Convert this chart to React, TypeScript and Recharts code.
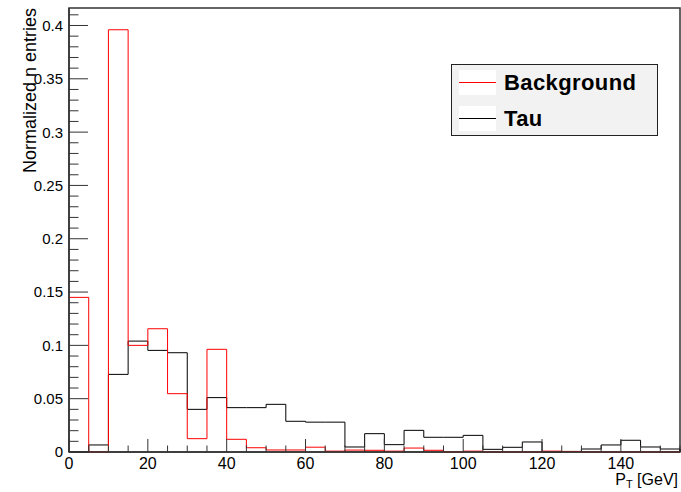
import { LineChart, Line, XAxis, YAxis, Legend, ReferenceArea, Label } from 'recharts';

// Histogram of P_T, 5 GeV bins from 0 to 155, normalised per sample.
const BIN_LOW = [
  0, 5, 10, 15, 20, 25, 30, 35, 40, 45, 50, 55, 60, 65, 70, 75,
  80, 85, 90, 95, 100, 105, 110, 115, 120, 125, 130, 135, 140, 145, 150,
];
const BIN_WIDTH = 5;

const BACKGROUND = [
  0.145, 0, 0.396, 0.1, 0.1156, 0.0547, 0.0125, 0.0963, 0.0119, 0.004, 0.0019,
  0.0019, 0.0045, 0.0008, 0.0018, 0.0016, 0.0008, 0.0037, 0.0016, 0, 0.0008,
  0, 0, 0, 0.0008, 0.0005, 0, 0, 0, 0, 0,
];
const TAU = [
  0, 0.0066, 0.0728, 0.104, 0.0953, 0.0931, 0.04, 0.051, 0.0416, 0.0416, 0.0447,
  0.0288, 0.028, 0.028, 0.0047, 0.0172, 0.0069, 0.0203, 0.0138, 0.0138, 0.0156,
  0.0025, 0.0044, 0.0094, 0, 0.0005, 0.0028, 0.0066, 0.011, 0.0047, 0.0028,
];

const X_MAX = 155;
const Y_MAX = 0.4164;
const Y_LABELS = ['0', '0.05', '0.1', '0.15', '0.2', '0.25', '0.3', '0.35', '0.4'];

const FONT = '"Liberation Sans", Arial, Helvetica, sans-serif';
const AXIS_COLOR = '#333';

// one point per bin edge, plus a closing edge so the outline drops to zero
const data = BIN_LOW.map((x, i) => ({ x, bg: BACKGROUND[i], tau: TAU[i] }));
data.push({ x: BIN_LOW[BIN_LOW.length - 1] + BIN_WIDTH, bg: 0, tau: 0 });

const xTicks = Array.from({ length: X_MAX / 5 + 1 }, (_, i) => i * 5);
const yTicks = Array.from({ length: 42 }, (_, i) => i / 100);

function XTick(props: any) {
  const { x, y, payload } = props;
  const major = payload.value % 20 === 0;
  return (
    <g>
      <line x1={x} x2={x} y1={y} y2={y - (major ? 13 : 6.5)} stroke={AXIS_COLOR} strokeWidth={1} />
      {major && (
        <text x={x} y={y + 17} textAnchor="middle" fontSize={16} fontFamily={FONT} fill="#000">
          {payload.value}
        </text>
      )}
    </g>
  );
}

function YTick(props: any) {
  const { x, y, payload } = props;
  const step = Math.round(payload.value * 100);
  const major = step % 5 === 0;
  return (
    <g>
      <line x1={x} x2={x + (major ? 19 : 9.5)} y1={y} y2={y} stroke={AXIS_COLOR} strokeWidth={1} />
      {major && (
        <text x={x - 6} y={y} dy="0.36em" textAnchor="end" fontSize={15} fontFamily={FONT} fill="#000">
          {Y_LABELS[step / 5]}
        </text>
      )}
    </g>
  );
}

function XTitle(props: any) {
  const { x, y, width } = props.viewBox;
  return (
    <text x={x + width - 2} y={y + 33} textAnchor="end" fontSize={16} fontFamily={FONT} fill="#000">
      P<tspan fontSize={11} dy={3}>T</tspan>
      <tspan dy={-3}> [GeV]</tspan>
    </text>
  );
}

function YTitle() {
  return (
    <text x={36} y={8} transform="rotate(-90, 36, 8)" textAnchor="end" fontSize={18} fontFamily={FONT} fill="#000">
      Normalized n entries
    </text>
  );
}

const LEGEND_ORDER = ['Background', 'Tau'];

function LegendBox(props: any) {
  const items = [...(props.payload || [])].sort(
    (a: any, b: any) => LEGEND_ORDER.indexOf(a.value) - LEGEND_ORDER.indexOf(b.value),
  );
  return (
    <div
      style={{
        width: 205,
        height: 70,
        background: '#f2f2f2',
        border: '1px solid #222',
        position: 'relative',
        fontFamily: FONT,
        fontWeight: 'bold',
        fontSize: 22,
        letterSpacing: 0.4,
        color: '#000',
      }}
    >
      {items.map((item: any, i: number) => (
        <div key={item.value} style={{ position: 'absolute', left: 7, top: 5 + i * 36, height: 25, display: 'flex', alignItems: 'center' }}>
          <div style={{ width: 37, height: 25, background: '#fff', position: 'relative' }}>
            <div style={{ position: 'absolute', left: 0, right: 0, top: 12, height: 1, background: item.color }} />
          </div>
          <span style={{ marginLeft: 8 }}>{item.value}</span>
        </div>
      ))}
    </div>
  );
}

export default function App() {
  return (
    <div style={{ position: 'absolute', left: 0, top: 0, background: '#fff' }}>
      <LineChart width={681} height={492} data={data} margin={{ top: 8, right: 1, bottom: 0, left: 0 }}>
        <XAxis
          type="number"
          dataKey="x"
          domain={[0, X_MAX]}
          ticks={xTicks}
          interval={0}
          tick={<XTick />}
          tickLine={false}
          tickSize={0}
          tickMargin={0}
          height={40}
          axisLine={{ stroke: AXIS_COLOR, strokeWidth: 1.5 }}
        >
          <Label content={<XTitle />} />
        </XAxis>
        <YAxis
          type="number"
          domain={[0, Y_MAX]}
          ticks={yTicks}
          interval={0}
          tick={<YTick />}
          tickLine={false}
          tickSize={0}
          tickMargin={0}
          width={69}
          axisLine={{ stroke: AXIS_COLOR, strokeWidth: 1.5 }}
        >
          <Label content={<YTitle />} />
        </YAxis>
        <ReferenceArea x1={0} x2={X_MAX} y1={0} y2={Y_MAX} fill="none" stroke={AXIS_COLOR} strokeWidth={1.5} />
        <Line
          type="stepAfter"
          dataKey="tau"
          name="Tau"
          stroke="#000"
          strokeWidth={1}
          dot={false}
          activeDot={false}
          isAnimationActive={false}
        />
        <Line
          type="stepAfter"
          dataKey="bg"
          name="Background"
          stroke="#ff0000"
          strokeWidth={1}
          dot={false}
          activeDot={false}
          isAnimationActive={false}
        />
        <Legend
          layout="vertical"
          align="center"
          verticalAlign="middle"
          content={<LegendBox />}
          wrapperStyle={{ left: 451, top: 64, width: 207 }}
        />
      </LineChart>
    </div>
  );
}
